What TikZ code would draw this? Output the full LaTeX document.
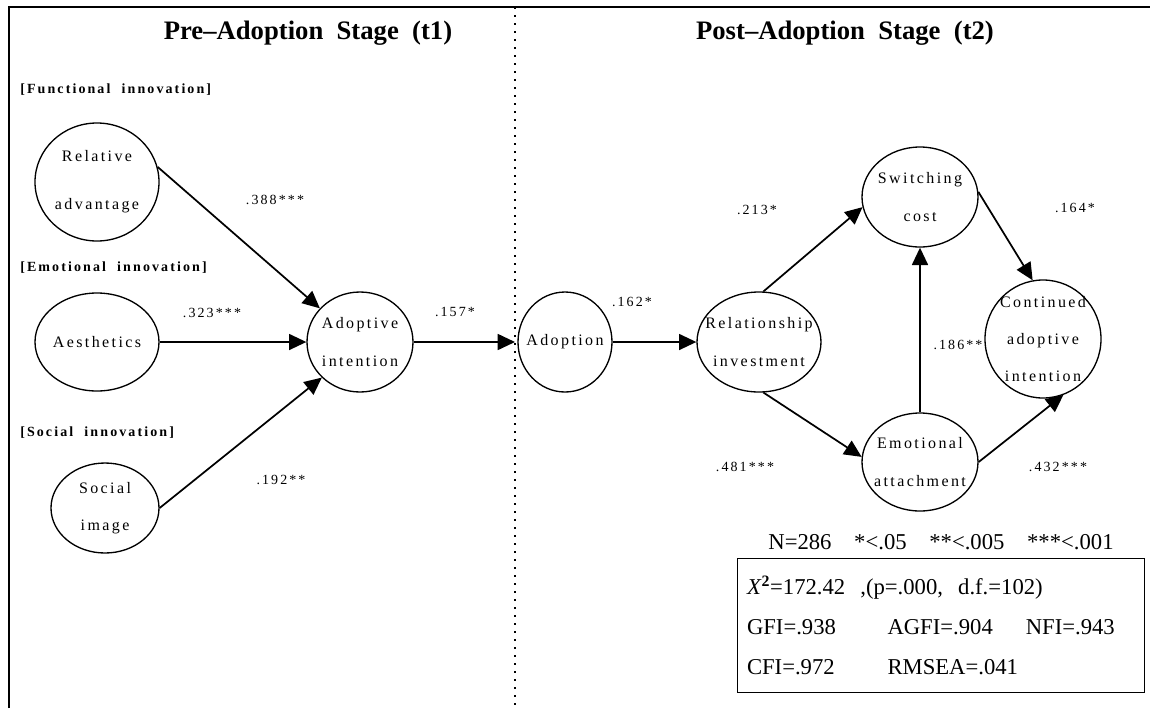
\documentclass[tikz,border=0pt]{standalone}
\usepackage{fontspec}
\setmainfont{Liberation Serif}
\newfontfamily\spacedfont[LetterSpace=15]{Liberation Serif}
\usetikzlibrary{arrows.meta,positioning,shapes.geometric}

\begin{document}
\begin{tikzpicture}[
  x=0.75pt, y=-0.75pt,
  lv/.style={draw,ellipse,line width=1pt,inner sep=-30pt,align=center,
    font=\spacedfont\fontsize{12}{28}\selectfont},
  grp/.style={anchor=west,inner sep=0pt,font=\spacedfont\bfseries\fontsize{10.5}{12}\selectfont},
  coef/.style={inner sep=0pt,font=\spacedfont\fontsize{10.5}{12}\selectfont},
  stage/.style={inner sep=0pt,font=\bfseries\fontsize{20}{22}\selectfont},
  stat/.style={inner sep=0pt,font=\fontsize{17}{30}\selectfont},
  ar/.style={-{Triangle[length=13pt,width=12pt]},line width=1.3pt}]

\useasboundingbox (0,0) rectangle (1150,708);
\draw[line width=1.5pt] (9,708) -- (9,7) -- (1150,7);
\draw[line width=1.3pt,dash pattern=on 1.5pt off 4.5pt] (515,7) -- (515,708);

\node[stage] (t1) at (308,33) {Pre–Adoption\ \ Stage\ \ (t1)};
\node[stage] (t2) at (845,33) {Post–Adoption\ \ Stage\ \ (t2)};

% pre-adoption
\node[grp] (g1) at (20,90) {[Functional\ \ innovation]};
\node[lv,minimum width=93pt,minimum height=88.5pt] (ra) at (97,182) {Relative\\[8pt]advantage};
\node[grp] (g2) at (20,268) {[Emotional\ \ innovation]};
\node[lv,minimum width=93pt,minimum height=73.5pt] (ae) at (97,342) {Aesthetics};
\node[grp] (g3) at (20,433) {[Social\ \ innovation]};
\node[lv,minimum width=81pt,minimum height=67.5pt] (si) at (105,508) {Social\\image};
\node[lv,minimum width=79.5pt,minimum height=75pt] (ai) at (360,342) {Adoptive\\intention};
\coordinate (gate) at (515,342);

% post-adoption
\node[lv,minimum width=70.5pt,minimum height=75pt] (ad) at (565,342) {Adoption};
\node[lv,minimum width=93pt,minimum height=75pt] (ri) at (759,342) {Relationship\\investment};
\node[lv,minimum width=87pt,minimum height=75pt] (sc) at (920,197) {Switching\\cost};
\node[lv,minimum width=87pt,minimum height=73.5pt] (ea) at (920,462) {Emotional\\attachment};
\node[lv,minimum width=87pt,minimum height=88.5pt] (ca) at (1043,339) {Continued\\adoptive\\intention};

\draw[ar] (ra.14) -- (ai.140);
\draw[ar] (ae) -- (ai);
\draw[ar] (si.east) -- (ai.223);
\draw[ar] (ai) -- (gate);
\draw[ar] (ad) -- (ri);
\draw[ar] (ri.85) -- (sc.190);
\draw[ar] (ri.-85) -- (ea.175);
\draw[ar] (ea) -- (sc);
\draw[ar] (sc.5) -- (ca.100);
\draw[ar] (ea.east) -- (ca.-70);

\node[coef] (c1) at (275,200) {.388***};
\node[coef] (c2) at (212,313) {.323***};
\node[coef] (c3) at (281,480) {.192**};
\node[coef] (c4) at (455,312) {.157*};
\node[coef] (c5) at (632,302) {.162*};
\node[coef] (c6) at (757,210) {.213*};
\node[coef] (c7) at (1075,208) {.164*};
\node[coef] (c8) at (958,345) {.186**};
\node[coef] (c9) at (745,467) {.481***};
\node[coef] (c10) at (1058,467) {.432***};

% fit indices
\node[stat,draw,line width=1pt,anchor=north west,align=left,inner xsep=7pt,
  minimum width=305pt,minimum height=100.5pt,text width=291pt] (fitbox) at (737,558)
  {\textit{X}\textsuperscript{\textbf{2}}=172.42\ \ ,(p=.000,\ \ d.f.=102)\\
   \makebox[6.2em][l]{GFI=.938}\makebox[6.1em][l]{AGFI=.904}NFI=.943\\
   \makebox[6.2em][l]{CFI=.972}RMSEA=.041};
\node[stat,above=6pt of fitbox] (nline) {N=286\quad*<.05\quad**<.005\quad***<.001};
\end{tikzpicture}
\end{document}
